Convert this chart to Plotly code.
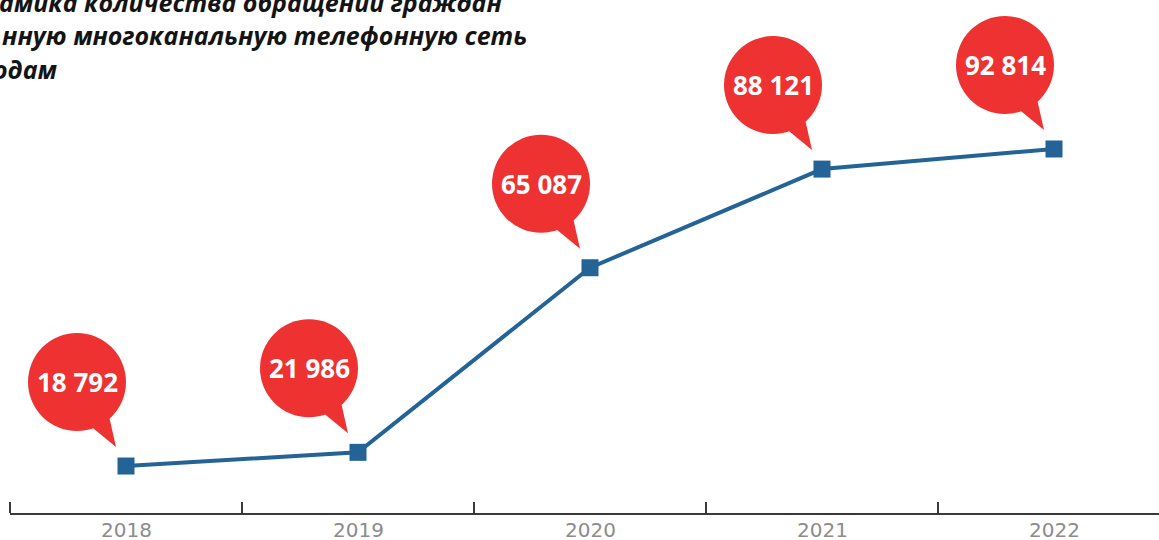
import plotly.graph_objects as go

years = ["2018", "2019", "2020", "2021", "2022"]
requests = [18792, 21986, 65087, 88121, 92814]
value_labels = ["18 792", "21 986", "65 087", "88 121", "92 814"]
title_lines = [
    "амика количества обращений граждан",
    "нную многоканальную телефонную сеть",
    "одам",
]

LINE_BLUE = "#236396"
BUBBLE_RED = "#EE3131"

W, H = 1159, 540
ML, MR, MT, MB = 10, 0, 0, 27
pw, ph = W - ML - MR, H - MT - MB

x_idx = list(range(len(years)))

fig = go.Figure()
fig.add_trace(go.Scatter(
    x=x_idx, y=requests, mode="lines+markers",
    line=dict(color=LINE_BLUE, width=4),
    marker=dict(symbol="square", size=17, color=LINE_BLUE),
    hoverinfo="skip", showlegend=False, cliponaxis=False,
))

# speech-bubble callouts: circle + tail, sized in pixels around each point
shapes = []
annotations = []
R = 49
CX, CY = -49, 84
for i, v in enumerate(requests):
    shapes.append(dict(
        type="circle", xref="x", yref="y",
        xsizemode="pixel", ysizemode="pixel", xanchor=i, yanchor=v,
        x0=CX - R, x1=CX + R, y0=CY - R, y1=CY + R,
        fillcolor=BUBBLE_RED, line=dict(width=0), layer="above",
    ))
    shapes.append(dict(
        type="path", xref="x", yref="y",
        xsizemode="pixel", ysizemode="pixel", xanchor=i, yanchor=v,
        path="M -38 42 L -10 19 L -17 50 Z",
        fillcolor=BUBBLE_RED, line=dict(width=0), layer="above",
    ))
    annotations.append(dict(
        x=i, y=v, xref="x", yref="y", text=f"<b>{value_labels[i]}</b>",
        showarrow=False, xshift=CX, yshift=CY,
        font=dict(family="Open Sans", size=26, color="white"),
    ))

# year labels under the axis, centred on each category
for i, yr in enumerate(years):
    annotations.append(dict(
        x=i, y=0, xref="x", yref="paper", text=yr,
        showarrow=False, yanchor="middle", yshift=-17, borderpad=0,
        font=dict(family="DejaVu Sans", size=20, color="#8C8C8C"),
    ))

# title lines, positioned in page pixels and converted to paper units
title_px_y = [2, 35, 69]
title_px_x = [-3, 0, -9]
for t, ty, tx in zip(title_lines, title_px_y, title_px_x):
    annotations.append(dict(
        x=(tx - ML) / pw, y=1 - (ty - MT) / ph, xref="paper", yref="paper",
        text=f"<b><i>{t}</i></b>",
        showarrow=False, xanchor="left", yanchor="middle",
        font=dict(family="Open Sans", size=25, color="#141414"),
    ))

fig.update_layout(
    width=W, height=H,
    margin=dict(l=ML, r=MR, t=MT, b=MB, autoexpand=False),
    paper_bgcolor="white", plot_bgcolor="white",
    shapes=shapes,
    annotations=annotations,
    xaxis=dict(
        range=[-0.5, 4.4526], tickmode="array", tickvals=x_idx,
        showticklabels=False,
        ticks="", showgrid=False, zeroline=False, automargin=False,
        showline=True, linecolor="#3A3A3A", linewidth=1.5,
        minor=dict(tickmode="linear", tick0=-0.5, dtick=1, ticks="inside",
                   ticklen=11, tickwidth=1.5, tickcolor="#3A3A3A", showgrid=False),
        fixedrange=True,
    ),
    yaxis=dict(range=[7822, 127600], visible=False, fixedrange=True,
               automargin=False),
)

fig.write_html("out.html")
